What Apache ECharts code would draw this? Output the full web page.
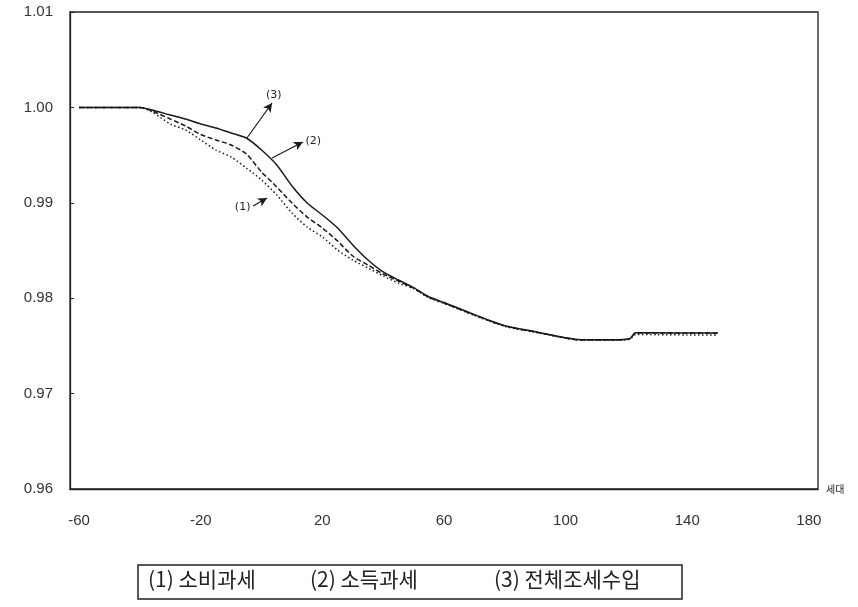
<!DOCTYPE html>
<html><head><meta charset="utf-8">
<script src="https://cdn.jsdelivr.net/npm/echarts@6/dist/echarts.min.js"></script>
<style>html,body{margin:0;padding:0;background:#fff}#c{width:858px;height:607px}</style>
</head><body><div id="c"></div>
<script>
// generation index (x) and ratio values
const generations   = [-60,-50,-40,-36,-30,-25,-20,-15,-10,-5,0,5,10,15,20,25,30,35,40,45,50,55,60,70,80,90,100,105,110,115,121,123,130,140,150];
const consumptionTax = [1.0000,1.0000,1.0000,0.99952,0.99826,0.99763,0.99658,0.99553,0.99480,0.99365,0.99239,0.99082,0.98893,0.98746,0.98642,0.98505,0.98400,0.98317,0.98233,0.98159,0.98100,0.98005,0.97945,0.97820,0.97705,0.97643,0.97580,0.97560,0.97560,0.97560,0.97570,0.97620,0.97618,0.97615,0.97614];
const incomeTax      = [1.0000,1.0000,1.0000,0.99973,0.99920,0.99878,0.99826,0.99784,0.99732,0.99679,0.99553,0.99396,0.99176,0.98998,0.98872,0.98736,0.98558,0.98400,0.98275,0.98191,0.98110,0.98015,0.97955,0.97828,0.97712,0.97649,0.97586,0.97565,0.97564,0.97564,0.97574,0.97637,0.97637,0.97636,0.97636];
const totalTax       = [1.0000,1.0000,1.0000,0.99962,0.99878,0.99805,0.99716,0.99658,0.99606,0.99512,0.99323,0.99166,0.98998,0.98851,0.98736,0.98600,0.98442,0.98348,0.98254,0.98180,0.98105,0.98010,0.97950,0.97824,0.97709,0.97646,0.97583,0.97562,0.97562,0.97562,0.97572,0.97635,0.97635,0.97635,0.97635];
const xTickLabels = [-60,-20,20,60,100,140,180];
const yTicks = {min:0.96, max:1.01, step:0.01};
const legendItems = ['(1) 소비과세','(2) 소득과세','(3) 전체조세수입'];
const arrowNotes = [
  {label:'(1)', from:[-2.8,0.98967], to:[1.8,0.99050], at:'start'},
  {label:'(2)', from:[3.45,0.99470], to:[13.6,0.99637], at:'end'},
  {label:'(3)', from:[-4.8,0.99679], to:[3.45,1.00046], at:'end'}
];

const chart = echarts.init(document.getElementById('c'), null, {renderer:'canvas'});
const pair = (ys) => generations.map((x,i)=>[x, ys[i]]);
const ink = '#1a1a1a';
function arrowData(n){
  return [[{coord:n.from, label:{show:true, formatter:n.label, position:n.at}},
           {coord:n.to}]];
}
const noteLabel = {show:true, color:'#222', fontSize:11, fontFamily:'DejaVu Sans', distance:3};
function mk(name, ys, type, note){
  return {
    name, type:'line', data:pair(ys), showSymbol:false, smooth:0.25,
    lineStyle:{color:ink, width:1.5, type:type},
    animation:false, z:3,
    markLine: note ? {
      silent:true, animation:false, symbol:['none','arrow'], symbolSize:[7,9],
      lineStyle:{color:ink, width:1.2, type:'solid'},
      label:noteLabel,
      data: arrowData(note)
    } : undefined
  };
}
const legendFont = '21px "Noto Sans CJK KR"';
const tickFont = {fontSize:15, color:'#333', fontFamily:'Liberation Sans'};
chart.setOption({
  animation:false,
  backgroundColor:'#fff',
  grid:{left:70, right:40, top:12, bottom:118, show:true, borderColor:'#222', borderWidth:1.3, backgroundColor:'transparent'},
  xAxis:{
    type:'value', min:-63, max:183,
    name:'세대', nameLocation:'end', nameGap:8,
    nameTextStyle:{fontSize:10, color:'#222', fontFamily:'Noto Sans CJK KR', verticalAlign:'middle'},
    axisLine:{show:true, onZero:false, lineStyle:{color:'#222', width:1.3}},
    axisTick:{show:false},
    splitLine:{show:false},
    axisLabel:Object.assign({customValues:xTickLabels, margin:24}, tickFont)
  },
  yAxis:{
    type:'value', min:yTicks.min, max:yTicks.max, interval:yTicks.step,
    axisLine:{show:true, onZero:false, lineStyle:{color:'#222', width:1.3}},
    axisTick:{show:true, inside:true, length:4, lineStyle:{color:'#222'}},
    splitLine:{show:false},
    axisLabel:Object.assign({margin:17, formatter:(v)=>v.toFixed(2)}, tickFont)
  },
  series:[
    mk(legendItems[0], consumptionTax, [1.5,2.5], arrowNotes[0]),
    mk(legendItems[1], incomeTax, 'solid', arrowNotes[1]),
    mk(legendItems[2], totalTax, [5,2.5], arrowNotes[2])
  ],
  graphic:[
    {type:'rect', shape:{x:138, y:565, width:544, height:34}, style:{fill:'none', stroke:'#222', lineWidth:1.5}},
    {type:'text', left:148, top:569, style:{text:legendItems[0], font:legendFont, fill:'#222'}},
    {type:'text', left:310, top:569, style:{text:legendItems[1], font:legendFont, fill:'#222'}},
    {type:'text', left:494, top:569, style:{text:legendItems[2], font:legendFont, fill:'#222'}}
  ]
});
</script></body></html>
